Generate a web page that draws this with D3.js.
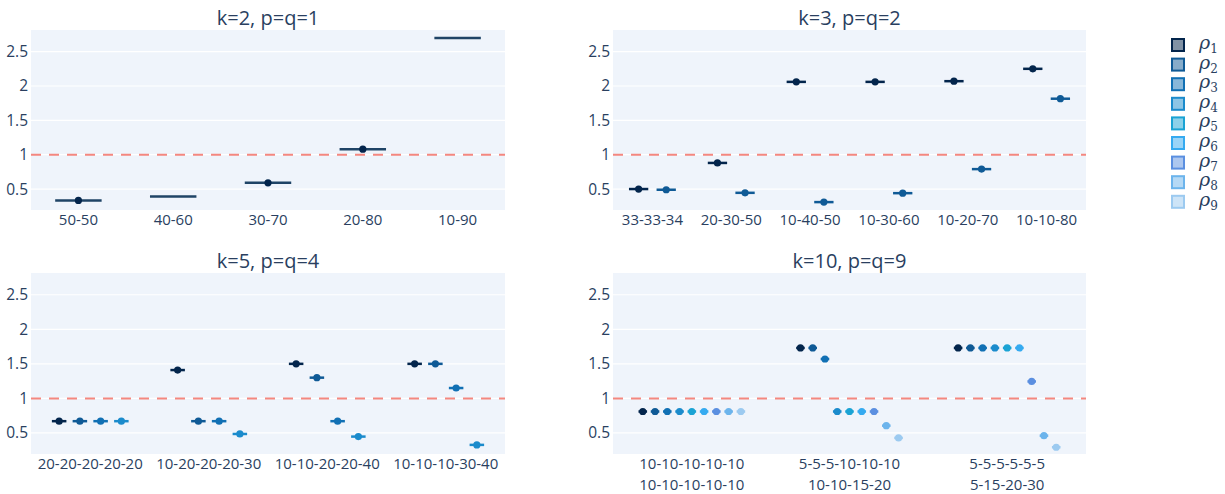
<!DOCTYPE html>
<html>
<head>
<meta charset="utf-8">
<script src="https://cdn.jsdelivr.net/npm/d3@7"></script>
<style>
  body { margin: 0; background: #fff; }
  text { font-family: "Open Sans", "Noto Sans", sans-serif; fill: #2a3f5f; }
</style>
</head>
<body>
<div id="vis"></div>
<script>
// series names + colours (rho_1 .. rho_9)
var seriesNames = ['1', '2', '3', '4', '5', '6', '7', '8', '9'];
var seriesColors = ['#03254c', '#0f5a96', '#1170b4', '#1b8bcc', '#1aa3d4',
                    '#35aaf0', '#5b8fe0', '#6cb4ec', '#9ccaf0'];

var yTicks = [0.5, 1, 1.5, 2, 2.5];

// k=2, p=q=1
var k2Cats = ['50-50', '40-60', '30-70', '20-80', '10-90'];
var k2Values = [[0.335, 0.39, 0.59, 1.08, 2.70]];
var k2Dots = [[true, false, true, true, false]];

// k=3, p=q=2
var k3Cats = ['33-33-34', '20-30-50', '10-40-50', '10-30-60', '10-20-70', '10-10-80'];
var k3Values = [
    [0.50, 0.88, 2.06, 2.06, 2.07, 2.25],
    [0.49, 0.445, 0.31, 0.44, 0.79, 1.815]
];

// k=5, p=q=4
var k5Cats = ['20-20-20-20-20', '10-20-20-20-30', '10-10-20-20-40', '10-10-10-30-40'];
var k5Values = [
    [0.67, 1.41, 1.50, 1.50],
    [0.67, 0.67, 1.30, 1.50],
    [0.67, 0.67, 0.67, 1.15],
    [0.67, 0.485, 0.447, 0.327]
];

// k=10, p=q=9
var k10Cats = [['10-10-10-10-10', '10-10-10-10-10'], ['5-5-5-10-10-10', '10-10-15-20'], ['5-5-5-5-5-5', '5-15-20-30']];
var k10Values = [
    [0.81, 1.73, 1.73],
    [0.81, 1.73, 1.73],
    [0.81, 1.57, 1.73],
    [0.81, 0.81, 1.73],
    [0.81, 0.81, 1.73],
    [0.81, 0.81, 1.73],
    [0.81, 0.81, 1.245],
    [0.81, 0.605, 0.46],
    [0.81, 0.428, 0.293]
];

var width = 1225, height = 494;
var svg = d3.select('#vis').append('svg')
    .attr('width', width)
    .attr('height', height);

var panels = [
    {title: 'k=2, p=q=1', cats: k2Cats, values: k2Values, dots: k2Dots, x: 31, y: 30, w: 474, h: 180},
    {title: 'k=3, p=q=2', cats: k3Cats, values: k3Values, x: 613, y: 30, w: 473, h: 180},
    {title: 'k=5, p=q=4', cats: k5Cats, values: k5Values, x: 31, y: 273, w: 474, h: 181},
    {title: 'k=10, p=q=9', cats: k10Cats, values: k10Values, x: 613, y: 273, w: 473, h: 181}
];

var drawPanel = function(p) {
    var g = svg.append('g')
        .attr('transform', 'translate(' + p.x + ',' + p.y + ')');

    g.append('rect')
        .attr('width', p.w)
        .attr('height', p.h)
        .attr('fill', '#eff4fb');

    var yScale = d3.scaleLinear()
        .domain([0.195, 2.815])
        .range([p.h, 0]);

    var idx = p.cats.map(function(d, i) { return i; });
    var xScale = d3.scaleBand()
        .domain(idx)
        .range([0, p.w]);

    var nSeries = p.values.length;
    // grouped boxes: group uses 70% of band, each box 70% of its slot
    var inner = d3.scaleBand()
        .domain(d3.range(nSeries))
        .range([-xScale.bandwidth() * 0.35, xScale.bandwidth() * 0.35]);
    var boxW = inner.bandwidth() * 0.7;

    // gridlines
    g.selectAll('.grid').data(yTicks).enter().append('line')
        .attr('x1', 0).attr('x2', p.w)
        .attr('y1', function(d) { return yScale(d); })
        .attr('y2', function(d) { return yScale(d); })
        .attr('stroke', '#fff')
        .attr('stroke-width', 1.2);

    // y axis
    var yAxis = d3.axisLeft(yScale)
        .tickValues(yTicks)
        .tickSize(0)
        .tickPadding(3)
        .tickFormat(d3.format('~g'));
    var ya = g.append('g').call(yAxis);
    ya.select('.domain').remove();
    ya.selectAll('text')
        .style('font-size', '15.5px')
        .attr('fill', '#2a3f5f');

    // x axis labels (one text per line so lines don't collide)
    p.cats.forEach(function(d, i) {
        var lines = Array.isArray(d) ? d : [d];
        lines.forEach(function(s, j) {
            g.append('text')
                .attr('text-anchor', 'middle')
                .style('font-size', '15px')
                .attr('x', xScale(i) + xScale.bandwidth() / 2)
                .attr('y', p.h + 15 + j * 20.5)
                .text(s);
        });
    });

    // reference line at 1
    g.append('line')
        .attr('x1', 0).attr('x2', p.w)
        .attr('y1', yScale(1)).attr('y2', yScale(1))
        .attr('stroke', '#f4877f')
        .attr('stroke-width', 2)
        .attr('stroke-dasharray', '10,8');

    // boxes (collapsed) + markers
    p.values.forEach(function(vals, s) {
        var col = seriesColors[s];
        vals.forEach(function(v, i) {
            var cx = xScale(i) + xScale.bandwidth() / 2 + inner(s) + inner.bandwidth() / 2;
            g.append('line')
                .attr('x1', cx - boxW / 2).attr('x2', cx + boxW / 2)
                .attr('y1', yScale(v)).attr('y2', yScale(v))
                .attr('stroke', s == 0 && nSeries == 1 ? '#1f4466' : col)
                .attr('stroke-width', 2.5);
            var hasDot = p.dots ? p.dots[s][i] : true;
            if (hasDot) {
                g.append('circle')
                    .attr('cx', cx).attr('cy', yScale(v))
                    .attr('r', 3.6)
                    .attr('fill', col);
            }
        });
    });

    // title
    svg.append('text')
        .attr('x', p.x + p.w / 2)
        .attr('y', p.y - 5)
        .attr('text-anchor', 'middle')
        .style('font-size', '20px')
        .text(p.title);
};

panels.forEach(drawPanel);

// legend
var legend = svg.append('g').attr('transform', 'translate(1171,38)');
var items = legend.selectAll('g').data(seriesNames).enter().append('g')
    .attr('transform', function(d, i) { return 'translate(0,' + (i * 19.6) + ')'; });
items.append('rect')
    .attr('x', 1).attr('y', 1)
    .attr('width', 12).attr('height', 12)
    .attr('fill', function(d, i) { return seriesColors[i]; })
    .attr('fill-opacity', 0.5)
    .attr('stroke', function(d, i) { return seriesColors[i]; })
    .attr('stroke-width', 2);
var lt = items.append('text')
    .attr('x', 28).attr('y', 11)
    .style('font-family', '"DejaVu Serif", "Liberation Serif", serif')
    .style('font-style', 'italic')
    .style('font-size', '19px')
    .attr('fill', '#2a3f5f');
lt.append('tspan').text('\u03c1');
lt.append('tspan')
    .attr('dy', 4)
    .style('font-size', '12px')
    .style('font-style', 'normal')
    .text(function(d) { return d; });
</script>
</body>
</html>
